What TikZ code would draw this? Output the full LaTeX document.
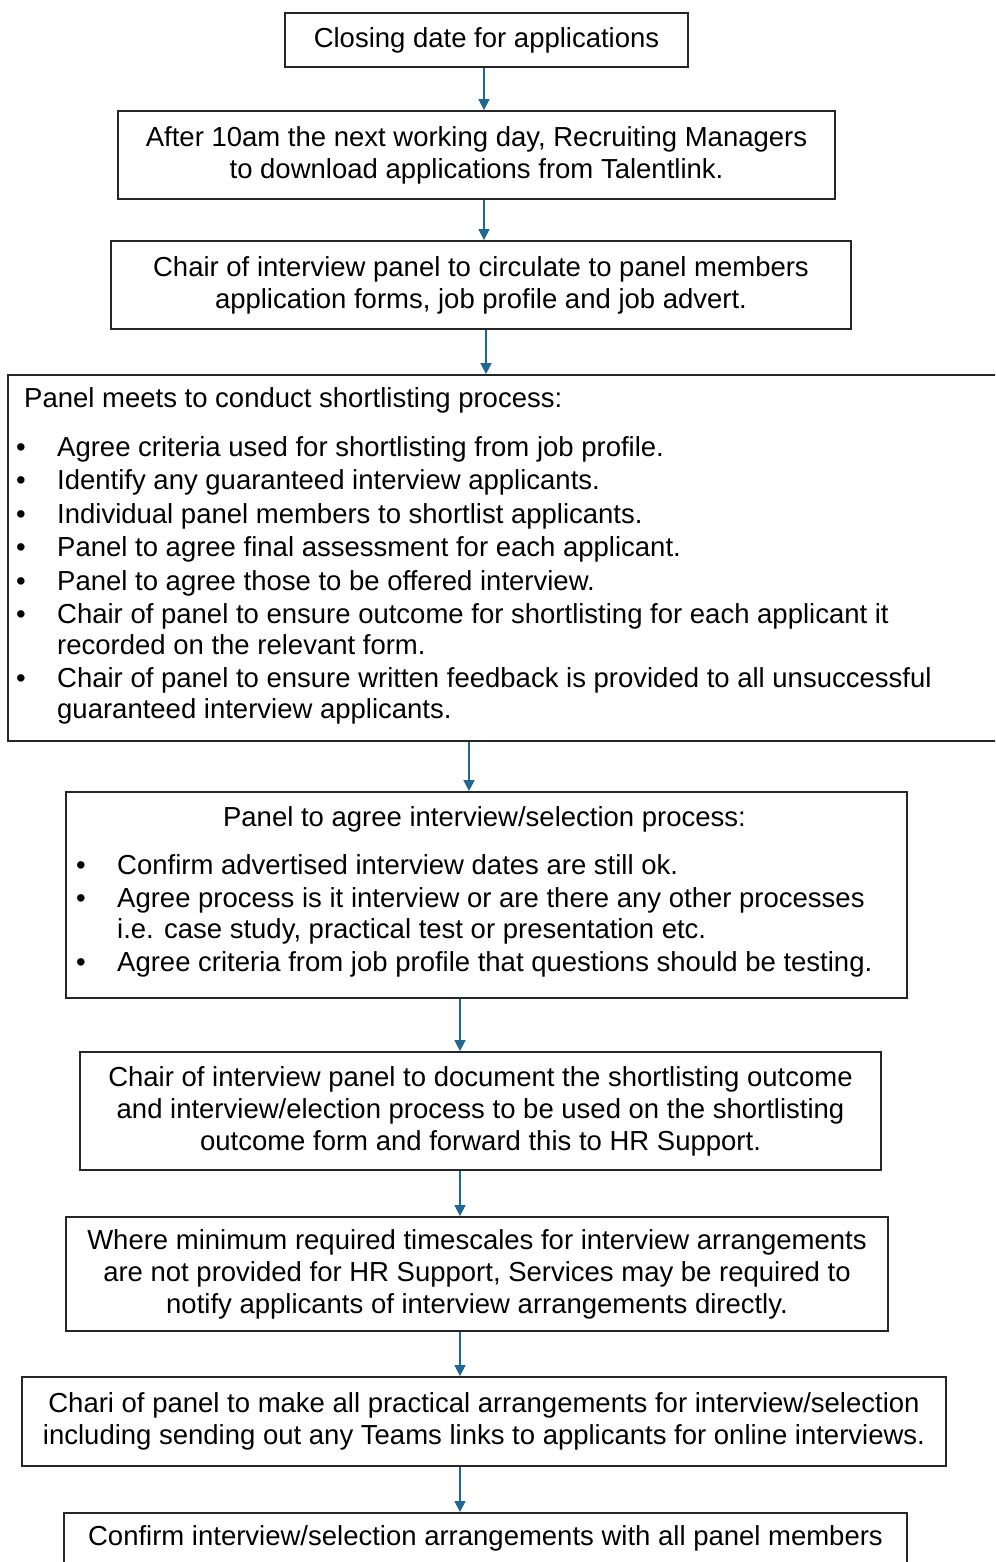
\documentclass[tikz,border=0pt]{standalone}
\usepackage{fontspec}
\setmainfont{Liberation Sans}
\usetikzlibrary{arrows.meta}
\definecolor{flowblue}{RGB}{31,104,145}
\newcommand\listbullet{\makebox[41pt][l]{\textbullet}}
\newcommand\listindent{\hspace*{41pt}}
\begin{document}
\begin{tikzpicture}[x=1pt,y=-1pt,
  box/.style={draw=black!85, line width=1.8pt, inner sep=0pt},
  txt/.style={font=\fontsize{27.5}{32}\selectfont, align=center, inner sep=0pt},
  lst/.style={font=\fontsize{27.5}{30.5}\selectfont, align=left, inner sep=0pt, anchor=north west},
  arr/.style={draw=flowblue, line width=1.6pt, -{Triangle[width=11pt,length=11pt]}}]
\useasboundingbox (0,0) rectangle (995,1562);
\clip (0,0) rectangle (995,1562);

% simple boxes
\node[box, txt, minimum width=403pt, minimum height=54pt] (b1) at (486.5,40)
  {Closing date for applications};
\node[box, txt, minimum width=717pt, minimum height=88pt] (b2) at (476.5,155)
  {After 10am the next working day, Recruiting Managers\\ to download applications from Talentlink.};
\node[box, txt, minimum width=740pt, minimum height=88pt] (b3) at (481,285)
  {Chair of interview panel to circulate to panel members\\ application forms, job profile and job advert.};

% shortlisting box
\node[box, minimum width=997pt, minimum height=366pt] (b4) at (506.5,558) {};
\node[txt, anchor=base west] (h4) at (24,407) {Panel meets to conduct shortlisting process:};
\node[lst] (l4) at (16,436) {%
  \listbullet Agree criteria used for shortlisting from job profile.\\[3pt]
  \listbullet Identify any guaranteed interview applicants.\\[3pt]
  \listbullet Individual panel members to shortlist applicants.\\[3pt]
  \listbullet Panel to agree final assessment for each applicant.\\[3pt]
  \listbullet Panel to agree those to be offered interview.\\[3pt]
  \listbullet Chair of panel to ensure outcome for shortlisting for each applicant it\\
  \listindent recorded on the relevant form.\\[3pt]
  \listbullet Chair of panel to ensure written feedback is provided to all unsuccessful\\
  \listindent guaranteed interview applicants.};

% interview/selection box
\node[box, minimum width=841pt, minimum height=206pt] (b5) at (486.5,895) {};
\node[txt, anchor=base] (h5) at (484.5,826) {Panel to agree interview/selection process:};
\node[lst] (l5) at (76,854) {%
  \listbullet Confirm advertised interview dates are still ok.\\[3pt]
  \listbullet Agree process is it interview or are there any other processes\\
  \listindent i.e. case study, practical test or presentation etc.\\[3pt]
  \listbullet Agree criteria from job profile that questions should be testing.};

\node[box, txt, minimum width=801pt, minimum height=118pt] (b6) at (480.5,1111)
  {Chair of interview panel to document the shortlisting outcome\\
   and interview/election process to be used on the shortlisting\\
   outcome form and forward this to HR Support.};
\node[box, txt, minimum width=822pt, minimum height=114pt] (b7) at (477,1274)
  {Where minimum required timescales for interview arrangements\\
   are not provided for HR Support, Services may be required to\\
   notify applicants of interview arrangements directly.};
\node[box, txt, minimum width=924pt, minimum height=89pt] (b8) at (484,1421.5)
  {Chari of panel to make all practical arrangements for interview/selection\\
   including sending out any Teams links to applicants for online interviews.};
\node[box, txt, anchor=north, minimum width=843pt, inner ysep=13pt, text depth=50pt] (b9) at (485.5,1512)
  {Confirm interview/selection arrangements with all panel members};

% connectors
\coordinate (ax1) at (484,0);
\coordinate (ax2) at (486,0);
\coordinate (ax3) at (469,0);
\coordinate (ax4) at (460,0);
\draw[arr] (b1.south -| ax1) -- (b2.north -| ax1);
\draw[arr] (b2.south -| ax1) -- (b3.north -| ax1);
\draw[arr] (b3.south -| ax2) -- (b4.north -| ax2);
\draw[arr] (b4.south -| ax3) -- (b5.north -| ax3);
\draw[arr] (b5.south -| ax4) -- (b6.north -| ax4);
\draw[arr] (b6.south -| ax4) -- (b7.north -| ax4);
\draw[arr] (b7.south -| ax4) -- (b8.north -| ax4);
\draw[arr] (b8.south -| ax4) -- (b9.north -| ax4);
\end{tikzpicture}
\end{document}
